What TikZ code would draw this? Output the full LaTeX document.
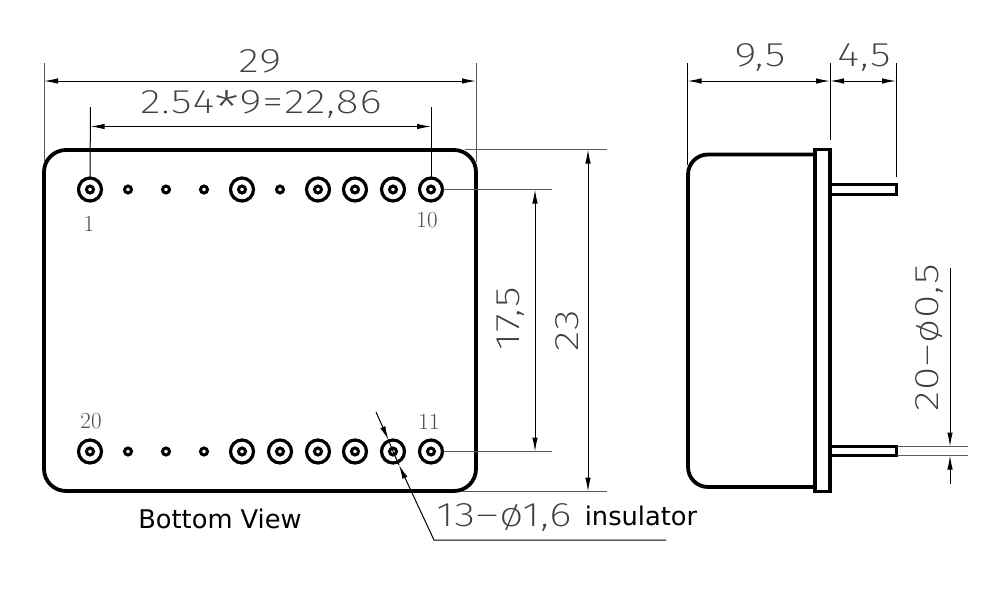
\documentclass[tikz,border=0pt]{standalone}
\usepackage{fontspec}
\usetikzlibrary{arrows.meta, positioning}
\setmainfont{DejaVu Sans}
\newfontfamily\dimfont[FakeStretch=1.25,LetterSpace=3]{Fira Sans ExtraLight}
\newfontfamily\numfont{Latin Modern Roman}
\tikzset{
  outline/.style={draw, line width=3.8pt, inner sep=0pt, outer sep=0pt},
  largepin/.style={circle, draw, line width=3.2pt, minimum size=23pt, inner sep=0pt, outer sep=0pt},
  smallpin/.style={circle, draw, line width=3pt, minimum size=7pt, inner sep=0pt, outer sep=0pt},
  pincore/.style={circle, draw, line width=3pt, minimum size=7pt, inner sep=0pt, outer sep=0pt},
  dimline/.style={line width=1pt, -{Latex[length=14pt,width=5.5pt]}},
  bothline/.style={line width=1pt, {Latex[length=14pt,width=5.5pt]}-{Latex[length=14pt,width=5.5pt]}},
  extline/.style={line width=1pt, black!65},
  dimtext/.style={font=\dimfont\fontsize{34}{34}\selectfont, text=black!75, inner sep=0pt},
  pinnum/.style={font=\numfont\fontsize{23}{23}\selectfont, text=black!70, inner sep=0pt},
  plainlabel/.style={font=\fontsize{25.7}{25.7}\selectfont, inner sep=0pt},
}
\begin{document}
\begin{tikzpicture}[x=1pt, y=-1pt]
  \useasboundingbox (0,0) rectangle (992,595);

  % bottom view
  \node[outline, rounded corners=22pt, minimum width=432pt, minimum height=341pt] (body) at (260,320.5) {};

  \foreach \n/\x in {1/90,5/242,7/318,8/355,9/393,10/431}
    \node[largepin] (p\n) at (\x,189.5) {};
  \foreach \n/\x in {2/128,3/166,4/204,6/280}
    \node[smallpin] (p\n) at (\x,189.5) {};
  \foreach \n/\x in {20/90,16/242,15/280,14/318,13/355,12/393,11/431}
    \node[largepin] (p\n) at (\x,451.5) {};
  \foreach \n/\x in {19/128,18/166,17/204}
    \node[smallpin] (p\n) at (\x,451.5) {};
  \foreach \n in {1,5,7,8,9,10,11,12,13,14,15,16,20}
    \node[pincore] at (p\n.center) {};

  \node[pinnum] (n1) at (89,224) {1};
  \node[pinnum] (n10) at (427,220) {10};
  \node[pinnum] (n20) at (91,421) {20};
  \node[pinnum] (n11) at (429,422) {11};

  % width dimensions
  \coordinate (wl) at (44,81);
  \coordinate (wr) at (476,81);
  \coordinate (wlt) at (44,63);
  \coordinate (wrt) at (476,63);
  \coordinate (wlb) at (44,162);
  \coordinate (wrb) at (476,162);
  \draw[extline] (wlt) -- (wlb);
  \draw[extline] (wrt) -- (wrb);
  \draw[bothline] (wl) -- (wr);
  \node[dimtext] (w29) at (260,61) {29};

  \coordinate (pl) at (90.5,126.5);
  \coordinate (pr) at (431,126.5);
  \coordinate (plt) at (90.5,107);
  \coordinate (prt) at (431,107);
  \draw[line width=1pt] (plt) -- (p1.north);
  \draw[line width=1pt] (prt) -- (p10.north);
  \draw[bothline] (pl) -- (pr);
  \node[dimtext] (w2286) at (261,105) {2.54\smash{\raisebox{-11pt}{\fontsize{46}{46}\selectfont *}}9=22,86};

  % height dimensions
  \coordinate (e10) at (552,189.5);
  \coordinate (e11) at (552,451.5);
  \coordinate (h1t) at (535,189.5);
  \coordinate (h1b) at (535,451.5);
  \draw[extline] (p10.east) -- (e10);
  \draw[extline] (p11.east) -- (e11);
  \draw[bothline] (h1t) -- (h1b);
  \node[dimtext, rotate=90] (h175) at (511,319) {17,5};

  \coordinate (t0) at (465,149.5);
  \coordinate (t1) at (607,149.5);
  \coordinate (b0) at (462,491.5);
  \coordinate (b1) at (607,491.5);
  \coordinate (h2t) at (588,149.5);
  \coordinate (h2b) at (588,491.5);
  \draw[extline] (t0) -- (t1);
  \draw[extline] (b0) -- (b1);
  \draw[bothline] (h2t) -- (h2b);
  \node[dimtext, rotate=90] (h23) at (567,331) {23};

  % hole callout
  \coordinate (ca) at (376,412);
  \coordinate (cb) at (388.5,440);
  \coordinate (cc) at (666,540);
  \coordinate (cd) at (434,540);
  \coordinate (ce) at (399,465);
  \draw[dimline] (ca) -- (cb);
  \draw[line width=1pt] (cb) -- (p12.center);
  \draw[line width=1pt] (p12.center) -- (ce);
  \draw[dimline] (cc) -- (cd) -- (ce);
  \node[dimtext] (hole) at (504,517) {13–ø1,6};
  \node[plainlabel] (ins) at (641,516) {insulator};
  \node[plainlabel] (view) at (220,519) {Bottom View};

  % side view
  \draw[outline, rounded corners=20pt] (815,154.5) -- (688,154.5) -- (688,487) -- (815,487);
  \node[outline, minimum width=15pt, minimum height=342pt] (flange) at (822.5,320.5) {};
  \draw[line width=3.4pt] (flange.east |- 0,184.5) -- (896.5,184.5) -- (896.5,194.5) -- (flange.east |- 0,194.5);
  \draw[line width=3.4pt] (flange.east |- 0,446.5) -- (896.5,446.5) -- (896.5,455.5) -- (flange.east |- 0,455.5);

  \coordinate (s0t) at (687.5,63);
  \coordinate (s0b) at (687.5,165);
  \coordinate (s1t) at (830,63);
  \coordinate (s1b) at (830,140);
  \coordinate (s2t) at (896,63);
  \coordinate (s2b) at (896,177);
  \draw[line width=1pt] (s0t) -- (s0b);
  \draw[line width=1pt] (s1t) -- (s1b);
  \draw[line width=1pt] (s2t) -- (s2b);
  \draw[bothline] (s0t |- wl) -- (s1t |- wl);
  \draw[bothline] (s1t |- wl) -- (s2t |- wl);
  \node[dimtext] (d95) at (760,58) {9,5};
  \node[dimtext] (d45) at (864,58) {4,5};

  % pin thickness
  \coordinate (g0) at (897,446.5);
  \coordinate (g1) at (968,446.5);
  \coordinate (g2) at (897,455.5);
  \coordinate (g3) at (968,455.5);
  \coordinate (gt) at (950,268);
  \coordinate (gb) at (950,484);
  \draw[extline] (g0) -- (g1);
  \draw[extline] (g2) -- (g3);
  \draw[dimline] (gt) -- (950,446.5);
  \draw[dimline] (gb) -- (950,455.5);
  \node[dimtext, rotate=90] (dia) at (929,338) {20–ø0,5};
\end{tikzpicture}
\end{document}
